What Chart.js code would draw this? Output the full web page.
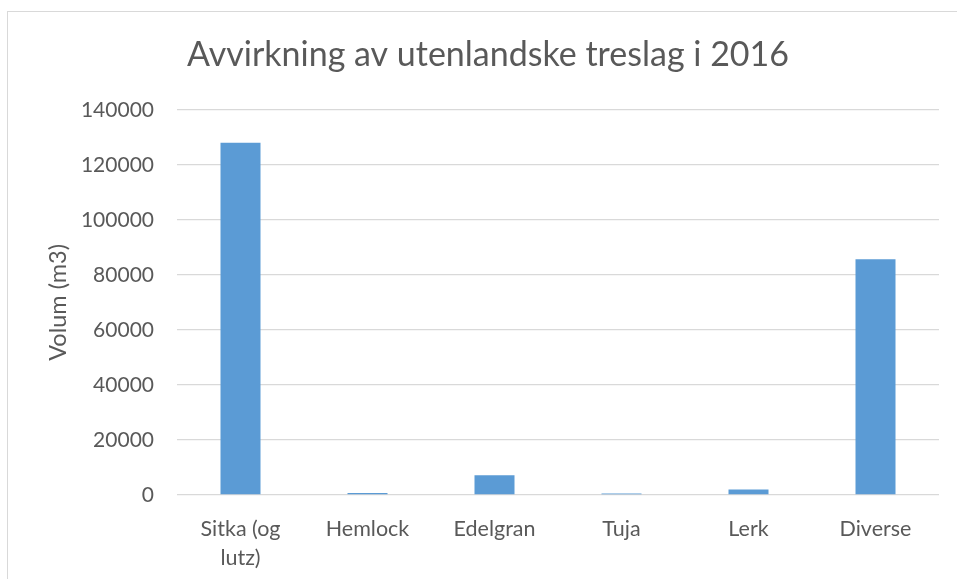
<!DOCTYPE html>
<html>
<head>
<meta charset="utf-8">
<script src="https://cdn.jsdelivr.net/npm/chart.js@4/dist/chart.umd.min.js"></script>
<style>
  html, body { margin: 0; padding: 0; background: #fff; overflow: hidden; }
  #frame { position: absolute; left: 7px; top: 11px; width: 980px; height: 600px; border: 1px solid #d9d9d9; }
  #wrap { position: absolute; left: 0; top: 0; width: 957px; height: 579px; }
</style>
</head>
<body>
<div id="frame"></div>
<div id="wrap"><canvas id="chart"></canvas></div>
<script>
// Avvirkning av utenlandske treslag i 2016 — volum per treslag
const categories = [['Sitka (og', 'lutz)'], 'Hemlock', 'Edelgran', 'Tuja', 'Lerk', 'Diverse'];
const volumes = [128000, 700, 7200, 550, 2000, 85700];
const yTicks = [0, 20000, 40000, 60000, 80000, 100000, 120000, 140000];

const textColor = '#595959';
const gridColor = '#d9d9d9';
const fontFamily = 'Lato, "Open Sans", sans-serif';

new Chart(document.getElementById('chart'), {
  type: 'bar',
  data: {
    labels: categories,
    datasets: [{
      label: 'Volum (m3)',
      data: volumes,
      backgroundColor: '#5b9bd5',
      borderWidth: 0,
      categoryPercentage: 1,
      barPercentage: 0.315,
    }],
  },
  options: {
    responsive: true,
    maintainAspectRatio: false,
    animation: false,
    layout: { padding: { left: 37, right: 18, top: 0, bottom: 0 } },
    plugins: {
      legend: { display: false },
      tooltip: { enabled: false },
      title: {
        display: true,
        text: 'Avvirkning av utenlandske treslag i 2016',
        color: textColor,
        font: { family: fontFamily, size: 34, weight: 'normal' },
        padding: { top: 35, bottom: 34 },
      },
    },
    scales: {
      x: {
        grid: { display: false, drawTicks: false },
        border: { display: false },
        ticks: {
          color: textColor,
          font: { family: fontFamily, size: 21.5, lineHeight: 1.35 },
          padding: 20,
          maxRotation: 0,
          autoSkip: false,
        },
        afterFit: s => { s.height = 84; },
      },
      y: {
        min: 0,
        max: 140000,
        afterBuildTicks: s => { s.ticks = yTicks.map(v => ({ value: v })); },
        grid: { color: gridColor, lineWidth: 1.3, drawTicks: false },
        border: { display: false },
        ticks: {
          color: textColor,
          font: { family: fontFamily, size: 21 },
          padding: 23,
          callback: v => String(v),
        },
        title: {
          display: true,
          text: 'Volum (m3)',
          color: textColor,
          font: { family: fontFamily, size: 23.5, lineHeight: 1.2 },
          padding: { top: 7, bottom: 0 },
        },
        afterFit: s => { s.width = 140; },
      },
    },
  },
});
</script>
</body>
</html>
